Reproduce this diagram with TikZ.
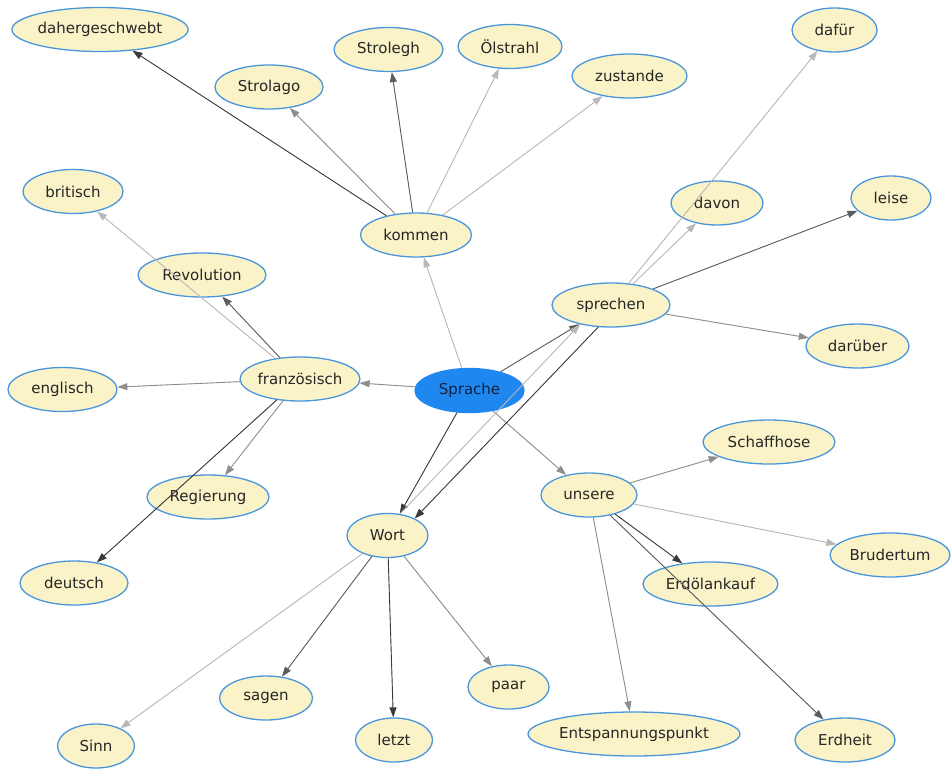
\documentclass[tikz,border=0pt]{standalone}
\usepackage{fontspec}
\setmainfont{DejaVu Sans}
\usetikzlibrary{shapes.geometric, arrows.meta}
\definecolor{Relleno}{HTML}{FAF3C8}
\definecolor{Borde}{HTML}{4A96DC}
\definecolor{AzulCentro}{HTML}{1E88F0}
\definecolor{TintaCentro}{HTML}{14213F}
\definecolor{GrisNegro}{HTML}{3A3A3A}
\definecolor{GrisOscuro}{HTML}{5C5C5C}
\definecolor{GrisMedio}{HTML}{8E8E8E}
\definecolor{GrisClaro}{HTML}{B8B8B8}

\begin{document}
\begin{tikzpicture}[
    x=1pt, y=-1pt,
    >={Triangle[length=10pt, width=7pt]}, % punta triangular rellena
    palabra/.style={ellipse, draw=Borde, line width=1.3pt, fill=Relleno, inner sep=0pt,
        minimum height=44pt, minimum width=#1pt, font=\fontsize{15}{18}\selectfont, text=black!85},
    centro/.style={palabra=#1, fill=AzulCentro, draw=AzulCentro, text=TintaCentro},
    arista_negra/.style={->, draw=GrisNegro, fill=GrisNegro, line width=0.9pt},
    arista_oscura/.style={->, draw=GrisOscuro, fill=GrisOscuro, line width=0.9pt},
    arista_media/.style={->, draw=GrisMedio, fill=GrisMedio, line width=0.9pt},
    arista_clara/.style={->, draw=GrisClaro, fill=GrisClaro, line width=0.9pt}
]
    \useasboundingbox (0,0) rectangle (952,768);

    % 1. Nodo central
    \node[centro=109] (sprache) at (469.5,390.5) {Sprache};

    % 2. Primer nivel
    \node[palabra=111] (kommen) at (416,235) {kommen};
    \node[palabra=118] (franz) at (300,379) {französisch};
    \node[palabra=118] (sprechen) at (611,305) {sprechen};
    \node[palabra=96] (unsere) at (589,495) {unsere};
    \node[palabra=81] (wort) at (387.5,535.5) {Wort};

    % 3. Alrededor de kommen
    \node[palabra=174] (dahergeschwebt) at (100,29.5) {dahergeschwebt};
    \node[palabra=108] (strolago) at (269,87) {Strolago};
    \node[palabra=109] (strolegh) at (388.5,49.5) {Strolegh};
    \node[palabra=104] (oelstrahl) at (510,46.5) {Ölstrahl};
    \node[palabra=115] (zustande) at (629.5,76) {zustande};

    % 4. Alrededor de französisch
    \node[palabra=100] (britisch) at (73,191.5) {britisch};
    \node[palabra=128] (revolution) at (202,275) {Revolution};
    \node[palabra=109] (englisch) at (62.5,389.5) {englisch};
    \node[palabra=122] (regierung) at (208,497) {Regierung};
    \node[palabra=108] (deutsch) at (74,583) {deutsch};

    % 5. Alrededor de sprechen
    \node[palabra=85] (dafuer) at (834.5,30) {dafür};
    \node[palabra=92] (davon) at (717,203) {davon};
    \node[palabra=80] (leise) at (891,198) {leise};
    \node[palabra=103] (darueber) at (857.5,346) {darüber};

    % 6. Alrededor de unsere
    \node[palabra=132] (schaffhose) at (769,442) {Schaffhose};
    \node[palabra=120] (brudertum) at (890,555) {Brudertum};
    \node[palabra=135] (erdoelankauf) at (710.5,584) {Erdölankauf};
    \node[palabra=204] (entspannung) at (634,734) {Entspannungspunkt};
    \node[palabra=100] (erdheit) at (845,740) {Erdheit};

    % 7. Alrededor de Wort
    \node[palabra=77] (sinn) at (96,746) {Sinn};
    \node[palabra=93] (sagen) at (266,698) {sagen};
    \node[palabra=77] (letzt) at (394,740) {letzt};
    \node[palabra=81] (paar) at (508.5,687) {paar};

    % 8. Aristas (encima de los nodos, como en el original)
    \draw[arista_clara] (sprache) -- (kommen);
    \draw[arista_media] (sprache) -- (franz);
    \draw[arista_oscura] (sprache) -- (sprechen);
    \draw[arista_media] (sprache) -- (unsere);
    \draw[arista_negra] (sprache) -- (wort);

    \draw[arista_negra] (kommen) -- (dahergeschwebt);
    \draw[arista_media] (kommen) -- (strolago);
    \draw[arista_oscura] (kommen) -- (strolegh);
    \draw[arista_clara] (kommen) -- (oelstrahl);
    \draw[arista_clara] (kommen) -- (zustande);

    \draw[arista_clara] (franz) -- (britisch);
    \draw[arista_oscura] (franz) -- (revolution);
    \draw[arista_media] (franz) -- (englisch);
    \draw[arista_media] (franz) -- (regierung);
    \draw[arista_negra] (franz) -- (deutsch);

    \draw[arista_clara] (sprechen) -- (dafuer);
    \draw[arista_clara] (sprechen) -- (davon);
    \draw[arista_oscura] (sprechen) -- (leise);
    \draw[arista_media] (sprechen) -- (darueber);
    \draw[arista_negra] (sprechen.240) -- (wort.32);
    \draw[arista_clara] (wort.60) -- (sprechen.212);

    \draw[arista_media] (unsere) -- (schaffhose);
    \draw[arista_clara] (unsere) -- (brudertum);
    \draw[arista_negra] (unsere) -- (erdoelankauf);
    \draw[arista_media] (unsere) -- (entspannung);
    \draw[arista_oscura] (unsere) -- (erdheit);

    \draw[arista_clara] (wort) -- (sinn);
    \draw[arista_oscura] (wort) -- (sagen);
    \draw[arista_negra] (wort) -- (letzt);
    \draw[arista_media] (wort) -- (paar);

\end{tikzpicture}
\end{document}
